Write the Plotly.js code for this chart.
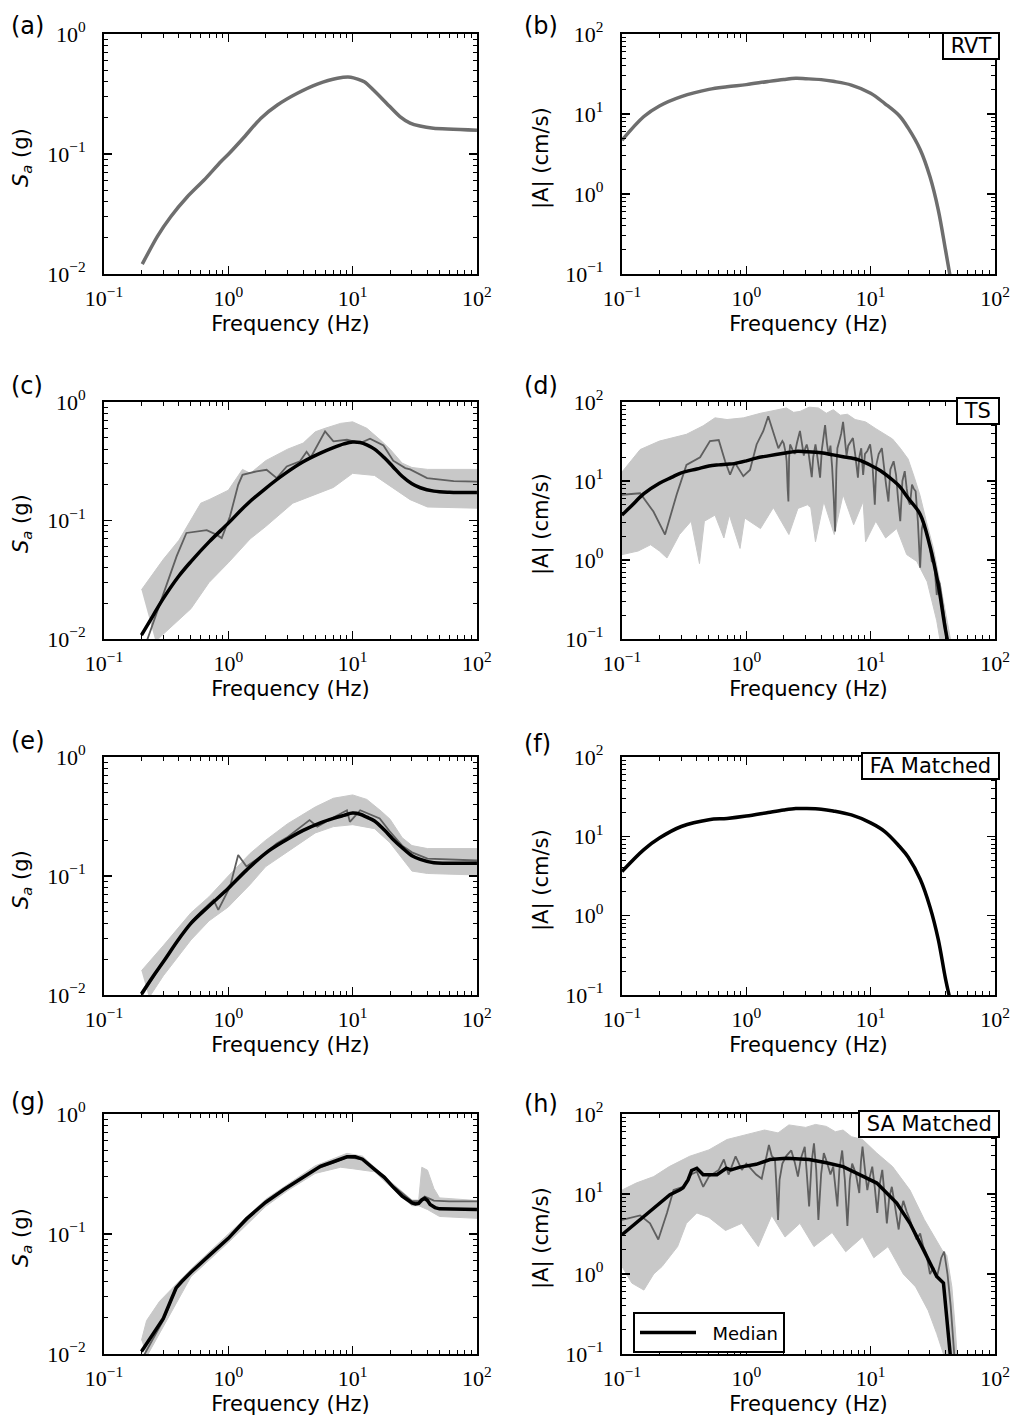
<!DOCTYPE html>
<html><head><meta charset="utf-8">
<script src="https://cdn.plot.ly/plotly-3.0.1.min.js"></script>
<style>html,body{margin:0;padding:0;background:#fff}</style>
</head><body><div id="chart" style="width:1012px;height:1418px"></div>
<script>
// ---------- tick data ----------
const xTickVals = [0.1, 1, 10, 100];
const xTickText = ['10<sup>\u22121</sup>','10<sup>0</sup>','10<sup>1</sup>','10<sup>2</sup>'];
const saTickVals = [0.01, 0.1, 1];
const saTickText = ['10<sup>\u22122</sup>','10<sup>\u22121</sup>','10<sup>0</sup>'];
const faTickVals = [0.1, 1, 10, 100];
const faTickText = ['10<sup>\u22121</sup>','10<sup>0</sup>','10<sup>1</sup>','10<sup>2</sup>'];
const xMinor = [0.2,0.3,0.4,0.5,0.6,0.7,0.8,0.9,2,3,4,5,6,7,8,9,20,30,40,50,60,70,80,90];
const saMinor = [0.02,0.03,0.04,0.05,0.06,0.07,0.08,0.09,0.2,0.3,0.4,0.5,0.6,0.7,0.8,0.9];
const faMinor = [0.2,0.3,0.4,0.5,0.6,0.7,0.8,0.9,2,3,4,5,6,7,8,9,20,30,40,50,60,70,80,90];
const saTitle = '<i>S</i><sub><i>a</i></sub> (g)';
const faTitle = '|A| (cm/s)';
const xTitle = 'Frequency (Hz)';

// ---------- (a) RVT Sa ----------
const fSaA = [0.203,0.268,0.344,0.468,0.638,0.869,1.014,1.337,1.82,2.48,3.59,5.2,7.54,9.66,12.4,14.7,18.8,24,29,34.8,44.6,100];
const saRVT = [0.0121,0.0205,0.030,0.044,0.0607,0.0863,0.101,0.138,0.198,0.256,0.321,0.383,0.428,0.436,0.40,0.341,0.264,0.205,0.181,0.171,0.164,0.158];

// ---------- (b) RVT FAS ----------
const fFa = [0.1,0.15,0.2,0.3,0.5,0.7,1,1.5,2,2.5,3,4,5,7,10,13,17,20,25,30,35,40,45];
const faRVT = [4.7,9.3,12.6,16.5,20.3,21.9,23.3,25.5,27,27.9,27.6,26.9,25.6,23,18.2,13.5,9.5,6.7,3.6,1.64,0.63,0.2,0.07];

// ---------- common Sa median grid ----------
const fSaM = [0.2,0.25,0.3,0.4,0.5,0.7,1,1.4,2,2.8,4,5.5,7,8.5,10,11.5,13,15,18,21,25,30,35,45,60,100];

// ---------- (c) TS Sa ----------
const saMedC = [0.0108,0.016,0.022,0.034,0.045,0.066,0.095,0.136,0.187,0.245,0.313,0.37,0.412,0.443,0.46,0.455,0.435,0.40,0.338,0.286,0.236,0.204,0.189,0.177,0.173,0.172];
const fDarkC = [0.22,0.3,0.384,0.46,0.67,0.8,0.885,1.03,1.2,1.3,1.69,2.03,2.45,2.95,3.77,4.26,4.6,6.0,7.0,9.0,11.5,13.8,17.7,21.2,26.5,29,39.7,65,100];
const saDarkC = [0.0095,0.024,0.05,0.0785,0.083,0.076,0.071,0.108,0.2,0.243,0.26,0.268,0.228,0.286,0.316,0.38,0.34,0.565,0.465,0.48,0.45,0.49,0.43,0.32,0.277,0.27,0.228,0.215,0.213];
const fUpC = [0.2,0.3,0.4,0.5,0.6,0.7,1.0,1.3,1.5,2,2.5,3,4,5,6,8,10,13,17,20,25,30,40,100];
const saUpC = [0.026,0.047,0.068,0.10,0.14,0.15,0.18,0.27,0.25,0.32,0.36,0.40,0.45,0.56,0.6,0.66,0.68,0.6,0.47,0.40,0.305,0.28,0.27,0.27];
const fLoC = [0.26,0.3,0.5,0.7,1.0,1.5,2,3.3,7,10,15,21,29,40,100];
const saLoC = [0.0095,0.011,0.018,0.03,0.044,0.07,0.089,0.14,0.19,0.25,0.24,0.19,0.15,0.13,0.127];

// ---------- (d) TS FAS ----------
const fMedD = [0.1,0.12,0.15,0.2,0.25,0.3,0.4,0.5,0.6,0.7,0.8,1,1.2,1.5,2,2.5,3,4,5,6,7,8,10,12,15,17,20,25,30,35,40,45];
const faMedD = [3.7,4.9,6.9,9.35,11.1,12.7,14.2,15.5,16,16.3,16.6,18,19.5,20.8,22.4,23.7,23.5,22.8,21.4,20.3,19.5,18.5,15.8,13.5,10.3,8.6,6.1,3.8,1.49,0.48,0.13,0.05];
const fDarkD = [0.1,0.14,0.179,0.222,0.275,0.33,0.425,0.51,0.6,0.675,0.74,0.81,0.946,1.07,1.21,1.37,1.5,1.65,1.81,1.95,
  2.0,2.08,2.11,2.15,2.18,2.21,2.25,2.35,2.45,2.55,2.65,2.7,2.8,2.9,2.98,3.06,3.15,3.25,3.36,3.45,3.6,3.7,3.8,3.92,4.05,4.2,4.3,4.45,4.6,4.75,4.9,5.05,5.18,5.3,5.4,5.6,5.8,6.0,6.2,6.4,6.6,6.9,7.2,7.5,7.7,7.9,8.1,8.4,8.7,9.0,9.4,9.9,10.3,10.6,10.8,11.1,11.6,12.3,12.8,13.3,13.9,14.4,15.3,16.0,16.6,17.3,18.0,18.8,19.5,20.2,20.7,21.5,22.2,23,24,25,25.8,26.6,27.5,29,31,32.5,34,35,36,38,41,43];
const faDarkD = [6.7,7.0,4.1,2.1,6.7,16,20,32,33,17.8,12,17,11.5,13.8,29,43,66,41,26,32,
  30,22,17.8,8,5.5,20,29,25,22,30,38,43,30,21,26,29,24,15,11.2,20,29,22,16,11,25,40,51,30,21,28,15,6,2.3,14,26,32,40,56,30,21,28,32,35,22,15,11,20,26,11.9,22,24,29,18,9,5.0,16,22,26,14,9,5.5,14,17.8,12,6,3.1,10,13.3,8,5.5,5.0,9,8,7.4,3,0.8,2.5,3.1,2.5,2,0.96,0.9,0.36,0.55,0.5,0.25,0.11,0.07];
const fUpD = [0.1,0.14,0.2,0.33,0.45,0.56,0.7,0.95,1.3,1.7,2.1,2.4,2.7,3.2,3.8,4.4,5,5.7,6.5,7.5,9.1,11,13,15,17.3,20,22.5,25,28,32,36,40,43,45];
const faUpD = [13,25,32,39,50,63,60,63,72,78,84,74,76,86,84,72,80,68,70,60,56,46,39,34,26,19,11,6.5,3.1,1.4,0.53,0.22,0.11,0.08];
const fLoD = [0.1,0.135,0.17,0.2,0.23,0.26,0.29,0.36,0.42,0.46,0.56,0.66,0.73,0.89,0.97,1.3,1.65,2.2,2.6,3.1,3.3,3.6,4.2,5.1,6,7.3,8.7,9.1,11,13.2,16.2,19.5,23.5,28.5,34,36,37];
const faLoD = [1.17,1.3,1.56,1.3,1.06,1.5,2.1,3.1,0.9,3.1,3.7,1.9,3.7,1.4,3.4,2.5,4.6,2.1,4.5,5,4.6,1.7,5.5,2.1,6.7,2.8,5.5,1.7,3.1,1.9,2.5,1.17,0.96,0.53,0.17,0.1,0.05];

// ---------- (e) FA matched Sa ----------
const saMedE = [0.0102,0.0145,0.019,0.0295,0.040,0.056,0.079,0.112,0.156,0.196,0.242,0.28,0.305,0.323,0.338,0.33,0.312,0.29,0.243,0.205,0.173,0.148,0.138,0.129,0.128,0.128];
const fDarkE = [0.2,0.3,0.5,0.6,0.76,0.83,1.03,1.2,1.4,1.9,2.45,2.95,4.5,5.2,7,9,9.5,11.5,16.5,19.7,25,30,40,100];
const saDarkE = [0.0098,0.019,0.041,0.05,0.063,0.052,0.081,0.15,0.12,0.15,0.188,0.21,0.295,0.26,0.31,0.357,0.285,0.357,0.305,0.24,0.18,0.158,0.14,0.135];
const fUpE = [0.2,0.3,0.5,0.7,1.0,1.5,2,3,5,7,10,13,17,20,25,30,40,100];
const saUpE = [0.016,0.026,0.049,0.067,0.10,0.155,0.20,0.275,0.38,0.45,0.48,0.44,0.35,0.30,0.21,0.18,0.17,0.17];
const fLoE = [0.23,0.3,0.5,0.7,1.0,1.5,2,3,5,7,10,15,20,25,30,40,100];
const saLoE = [0.0095,0.0145,0.029,0.042,0.055,0.085,0.12,0.16,0.23,0.26,0.27,0.25,0.19,0.14,0.11,0.105,0.102];

// ---------- (f) FA matched FAS ----------
const faMedF = [3.6,6.8,9.5,13.3,16.2,16.8,18.0,20.0,21.5,22.4,22.4,22.0,20.9,18.6,14.8,11.5,7.5,5.5,2.9,1.29,0.50,0.16,0.07];

// ---------- (g) SA matched Sa ----------
const fMedG = [0.2,0.25,0.3,0.35,0.38,0.42,0.5,0.7,1,1.4,2,2.8,4,5.5,7,9,10.5,12,15,18,21,25,30,32,34,36,38,40,42,46,50,70,100];
const saMedG = [0.0105,0.0147,0.0198,0.029,0.0355,0.040,0.048,0.066,0.092,0.134,0.184,0.235,0.30,0.366,0.40,0.44,0.44,0.42,0.346,0.297,0.248,0.207,0.182,0.178,0.18,0.192,0.198,0.19,0.176,0.166,0.162,0.16,0.16];
const fDarkG = [0.21,0.3,0.38,0.5,1,2,5,9,12,20,30,34,38,45,60,100];
const saDarkG = [0.0098,0.0192,0.035,0.048,0.093,0.185,0.345,0.435,0.42,0.265,0.188,0.188,0.205,0.19,0.187,0.187];
const fUpG = [0.2,0.22,0.28,0.35,0.5,1,2,5,9,12,20,30,34,36,40,45,50,100];
const saUpG = [0.013,0.019,0.0275,0.035,0.051,0.1,0.195,0.37,0.47,0.445,0.275,0.192,0.192,0.36,0.34,0.24,0.2,0.19];
const fLoG = [0.22,0.3,0.5,1,2,3,5,8,10,15,20,30,34,40,50,100];
const saLoG = [0.0095,0.017,0.044,0.085,0.17,0.23,0.32,0.36,0.35,0.33,0.25,0.172,0.172,0.16,0.14,0.135];

// ---------- (h) SA matched FAS ----------
const fMedH = [0.1,0.168,0.243,0.293,0.31,0.34,0.363,0.4,0.45,0.58,0.69,0.75,0.89,1.2,1.55,2.1,3.2,4.4,6.0,8.7,11.2,16.2,20.7,26.6,34,38.5,43.5,45];
const faMedH = [3.1,6.0,9.8,11.3,12,15,19.7,21,17.4,17.4,21,20,21.7,23.5,27,28,27,24.6,22,16.6,13.7,7.7,4.3,2.0,0.93,0.77,0.1,0.06];
const fDarkH = [0.1,0.14,0.168,0.196,0.23,0.26,0.31,0.36,0.4,0.45,0.5,0.6,0.66,0.72,0.82,0.92,1.0,1.2,1.33,
  1.52,1.6,1.7,1.75,1.8,1.85,1.95,2.1,2.3,2.45,2.6,2.75,2.95,3.05,3.2,3.35,3.5,3.65,3.8,4.0,4.2,4.45,4.75,5.0,5.2,5.4,5.6,5.9,6.2,6.5,6.8,7.1,7.6,8.1,8.35,8.6,9.0,9.4,9.8,10.3,10.8,11.3,11.8,12.4,13.0,13.5,14.1,14.8,15.7,16.8,17.5,18.3,19.5,20.7,22,23.4,25,26.5,28,30,32,34,35.5,37,39,40,41.5,44,47];
const faDarkH = [4.75,5.4,4.3,2.7,5.8,11.2,12.3,17.5,19,12.3,16.5,20,27,17.5,29.6,20,24,17.5,15.5,
  41,30,27,12,4.75,15,24,30,35,25,16.5,28,39,20,7,25,43,20,4.75,18,32.5,25,17.5,22,12,7,20,35,15,4,15,24,18,10.3,25,39,20,11.2,16,22,12,5.8,13,20,9,4.3,9,12.3,7,3.6,6,8.2,6,4.75,3.5,2.7,3.2,2.2,1.8,1.0,1.2,0.9,1.2,1.6,1.9,1.5,1.0,0.4,0.1];
const fUpH = [0.1,0.13,0.18,0.24,0.35,0.5,0.7,1.0,1.4,1.8,2.2,3,3.6,4.4,5.2,6,7,8.6,11.2,15,20.7,27,32.5,37.5,41,45,48,50];
const faUpH = [11.2,13.7,16.5,22,29.6,35.6,48,55,63,58,73,68,74,70,60,63,52,48,32.5,22,11.2,4.8,2.9,2.0,1.7,0.69,0.2,0.08];
const fLoH = [0.1,0.12,0.15,0.18,0.21,0.28,0.33,0.4,0.5,0.68,0.92,1.25,1.6,2.05,2.7,3.5,4.9,6.3,8.6,10.6,13.8,18.3,23,29,34,38.5,40];
const faLoH = [1.24,0.77,0.63,1.0,1.24,2.2,4.3,5.8,5.1,3.5,4.3,2.2,5.4,2.9,4.3,2.2,3.3,1.9,2.9,1.6,2.2,1.0,0.69,0.35,0.18,0.1,0.07];

// ---------- styles ----------
const C_BAND = '#c8c8c8', C_DARK = '#5f5f5f', C_RVT = '#6e6e6e', C_MED = '#000000';
const FONT_SANS = '"DejaVu Sans", sans-serif';
const FONT_SERIF = '"Liberation Serif", "Times New Roman", serif';

function band(fu, yu, fl, yl, xa, ya) {
  return {x: fu.concat(fl.slice().reverse()), y: yu.concat(yl.slice().reverse()),
    xaxis: xa, yaxis: ya, mode: 'lines', fill: 'toself', fillcolor: C_BAND,
    line: {color: C_BAND, width: 1}, showlegend: false, hoverinfo: 'skip'};
}
function line(x, y, xa, ya, color, width, smooth, name, legend) {
  return {x: x, y: y, xaxis: xa, yaxis: ya, mode: 'lines', name: name || '',
    line: {color: color, width: width, shape: smooth ? 'spline' : 'linear', smoothing: smooth || 1},
    showlegend: !!legend, hoverinfo: 'skip'};
}

const traces = [
  line(fSaA, saRVT, 'x', 'y', C_RVT, 3.5, 0.6),
  line(fFa, faRVT, 'x2', 'y2', C_RVT, 3.5, 1),
  band(fUpC, saUpC, fLoC, saLoC, 'x3', 'y3'),
  line(fDarkC, saDarkC, 'x3', 'y3', C_DARK, 1.8, 0),
  line(fSaM, saMedC, 'x3', 'y3', C_MED, 3.5, 1),
  band(fUpD, faUpD, fLoD, faLoD, 'x4', 'y4'),
  line(fDarkD, faDarkD, 'x4', 'y4', C_DARK, 1.8, 0),
  line(fMedD, faMedD, 'x4', 'y4', C_MED, 3.5, 1),
  band(fUpE, saUpE, fLoE, saLoE, 'x5', 'y5'),
  line(fDarkE, saDarkE, 'x5', 'y5', C_DARK, 1.8, 0),
  line(fSaM, saMedE, 'x5', 'y5', C_MED, 3.5, 1),
  line(fFa, faMedF, 'x6', 'y6', C_MED, 3.5, 1),
  band(fUpG, saUpG, fLoG, saLoG, 'x7', 'y7'),
  line(fDarkG, saDarkG, 'x7', 'y7', C_DARK, 1.8, 0),
  line(fMedG, saMedG, 'x7', 'y7', C_MED, 3.5, 0),
  band(fUpH, faUpH, fLoH, faLoH, 'x8', 'y8'),
  line(fDarkH, faDarkH, 'x8', 'y8', C_DARK, 1.8, 0),
  line(fMedH, faMedH, 'x8', 'y8', C_MED, 3.5, 0, '\u00a0\u00a0Median', true)
];

const colL = [0.1028, 0.4713], colR = [0.6146, 0.9832];
const rows = [[0.80677,0.97602],[0.54937,0.71650],[0.29831,0.46615],[0.04513,0.21439]];

function xAxis(dom, anchor) {
  return {type: 'log', range: [-1, 2], domain: dom, anchor: anchor,
    showline: true, linecolor: '#000', linewidth: 2, mirror: 'allticks',
    ticks: 'inside', ticklen: 8, tickwidth: 1.5, tickcolor: '#000',
    tickmode: 'array', tickvals: xTickVals, ticktext: xTickText,
    minor: {tickmode: 'array', tickvals: xMinor, ticks: 'inside', ticklen: 4, tickwidth: 1, tickcolor: '#000', showgrid: false},
    tickfont: {family: FONT_SERIF, size: 22, color: '#000'},
    showgrid: false, zeroline: false, ticklabelstandoff: 4,
    title: {text: xTitle, font: {family: FONT_SANS, size: 21, color: '#000'}, standoff: 6}};
}
function yAxis(dom, anchor, left) {
  return {type: 'log', range: left ? [-2, 0] : [-1, 2], domain: dom, anchor: anchor,
    showline: true, linecolor: '#000', linewidth: 2, mirror: 'allticks',
    ticks: 'inside', ticklen: 8, tickwidth: 1.5, tickcolor: '#000',
    tickmode: 'array', tickvals: left ? saTickVals : faTickVals, ticktext: left ? saTickText : faTickText,
    minor: {tickmode: 'array', tickvals: left ? saMinor : faMinor, ticks: 'inside', ticklen: 4, tickwidth: 1, tickcolor: '#000', showgrid: false},
    tickfont: {family: FONT_SERIF, size: 22, color: '#000'},
    showgrid: false, zeroline: false, ticklabelstandoff: 12};
}

const layout = {width: 1012, height: 1418, margin: {l: 0, r: 0, t: 0, b: 0},
  paper_bgcolor: '#fff', plot_bgcolor: '#fff', hovermode: false,
  showlegend: true,
  legend: {x: 0.6255, y: 0.0745, xanchor: 'left', yanchor: 'top', bgcolor: '#fff',
    bordercolor: '#000', borderwidth: 2, font: {family: FONT_SANS, size: 18, color: '#000'},
    itemwidth: 56, tracegroupgap: 0},
  annotations: []};

const panels = ['a','b','c','d','e','f','g','h'];
const rowCenters = [158, 524, 880, 1238];
for (let i = 0; i < 8; i++) {
  const r = Math.floor(i / 2), left = (i % 2 === 0);
  const n = i === 0 ? '' : String(i + 1);
  layout['xaxis' + n] = xAxis(left ? colL : colR, 'y' + n);
  layout['yaxis' + n] = yAxis(rows[r], 'x' + n, left);
  // y-axis title
  layout.annotations.push({xref: 'paper', yref: 'paper', x: (left ? 22 : 541) / 1012, y: 1 - rowCenters[r] / 1418,
    xanchor: 'center', yanchor: 'middle', textangle: -90, text: left ? saTitle : faTitle, showarrow: false,
    font: {family: FONT_SANS, size: 21, color: '#000'}});
}
const letterY = [26, 26, 386, 386, 741, 744, 1102, 1104];
for (let i = 0; i < 8; i++) {
  const left = (i % 2 === 0);
  layout.annotations.push({xref: 'paper', yref: 'paper', x: (left ? 9 : 522) / 1012, y: 1 - letterY[i] / 1418,
    xanchor: 'left', yanchor: 'middle', text: '(' + panels[i] + ')', showarrow: false,
    font: {family: FONT_SANS, size: 24, color: '#000'}});
}
const boxes = [['RVT', 32], ['TS', 397], ['FA Matched', 752], ['SA Matched', 1110]];
for (const [t, yt] of boxes) {
  layout.annotations.push({xref: 'paper', yref: 'paper', x: 1000 / 1012, y: 1 - yt / 1418,
    xanchor: 'right', yanchor: 'top', text: '\u00a0' + t + '\u00a0', showarrow: false, bgcolor: '#fff',
    bordercolor: '#000', borderwidth: 2, borderpad: 0,
    font: {family: FONT_SANS, size: 21, color: '#000'}});
}

Plotly.newPlot('chart', traces, layout, {staticPlot: true, displayModeBar: false});
</script></body></html>
